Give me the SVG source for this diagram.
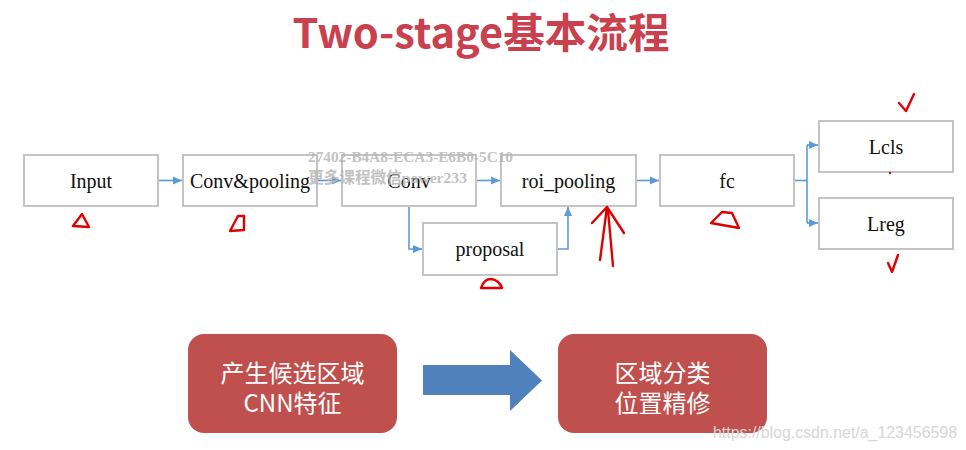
<svg xmlns="http://www.w3.org/2000/svg" width="966" height="450" viewBox="0 0 966 450">
<style>
.box{fill:#fff;stroke:#c4c4c4;stroke-width:2}
.lbl{font-family:"Liberation Serif","Times New Roman",serif;font-size:20px;fill:#111;text-anchor:middle}
.con{fill:none;stroke:#5b9bd5;stroke-width:1.6}
.red{fill:#c0504d}
.wt{font-family:"Noto Sans CJK SC","Noto Sans",sans-serif;font-size:24px;fill:#fff;text-anchor:middle}
.ink{fill:none;stroke:#e00000;stroke-width:2.4;stroke-linecap:round;stroke-linejoin:round}
.wm{font-family:"Liberation Serif","Noto Sans CJK SC",serif;font-size:15.5px;font-weight:bold;fill:#b8b8b8;opacity:0.85}
</style>
<defs>
<marker id="ah" markerUnits="userSpaceOnUse" markerWidth="10" markerHeight="10" refX="9" refY="5" orient="auto">
<path d="M0,1 L9,5 L0,9 Z" fill="#5b9bd5"/>
</marker>
</defs>
<rect width="966" height="450" fill="#fff"/>
<text x="481" y="48" font-family="'Noto Sans CJK SC','Noto Sans',sans-serif" font-size="41" font-weight="bold" fill="#c9404e" text-anchor="middle" textLength="377" lengthAdjust="spacingAndGlyphs">Two-stage基本流程</text>

<g id="connectors">
<path class="con" d="M158,180.5 H182" marker-end="url(#ah)"/>
<path class="con" d="M317,180.5 H341" marker-end="url(#ah)"/>
<path class="con" d="M476,180.5 H500" marker-end="url(#ah)"/>
<path class="con" d="M636,180.5 H659" marker-end="url(#ah)"/>
<path class="con" d="M409,206 V249 H422" marker-end="url(#ah)"/>
<path class="con" d="M557,249 H568 V207" marker-end="url(#ah)"/>
<path class="con" d="M794,180.5 H807"/>
<path class="con" d="M807,145 V223"/>
<path class="con" d="M807,145 H818" marker-end="url(#ah)"/>
<path class="con" d="M807,223 H818" marker-end="url(#ah)"/>
</g>

<g id="input"><rect class="box" x="24" y="155" width="134" height="51"/><text class="lbl" x="91" y="188">Input</text></g>
<g id="convpool"><rect class="box" x="183" y="155" width="134" height="51"/><text class="lbl" x="250" y="188">Conv&amp;pooling</text></g>
<g id="conv"><rect class="box" x="342" y="155" width="134" height="51"/><text class="lbl" x="409" y="188">Conv</text></g>
<g id="proposal"><rect class="box" x="423" y="223" width="134" height="52"/><text class="lbl" x="490" y="256">proposal</text></g>
<g id="roi"><rect class="box" x="501" y="155" width="135" height="51"/><text class="lbl" x="568.5" y="188">roi_pooling</text></g>
<g id="fc"><rect class="box" x="660" y="155" width="134" height="51"/><text class="lbl" x="727" y="188">fc</text></g>
<g id="lcls"><rect class="box" x="819" y="121" width="134" height="51"/><text class="lbl" x="886" y="154">Lcls</text></g>
<g id="lreg"><rect class="box" x="819" y="198" width="134" height="51"/><text class="lbl" x="886" y="231">Lreg</text></g>

<text class="wm" x="308" y="162" textLength="205" lengthAdjust="spacingAndGlyphs">27402-B4A8-ECA3-E6B0-5C10</text>
<text class="wm" x="308" y="183" font-weight="normal" textLength="159" lengthAdjust="spacingAndGlyphs">更多课程微信power233</text>

<g id="stage1"><rect class="red" x="188" y="334" width="209" height="99" rx="16"/>
<text class="wt" x="292.5" y="382">产生候选区域</text><text class="wt" x="292.5" y="412">CNN特征</text></g>
<g id="arrow"><path d="M423,365 H510 V350 L542,380.5 L510,411 V395 H423 Z" fill="#4f81bd"/></g>
<g id="stage2"><rect class="red" x="558" y="334" width="209" height="99" rx="16"/>
<text class="wt" x="662.5" y="382">区域分类</text><text class="wt" x="662.5" y="412">位置精修</text></g>

<g id="marks">
<path class="ink" d="M73,226 L82,214 L89,227 Z"/>
<path class="ink" d="M230,231 L238,216 L244,216 L244,230 Z"/>
<path class="ink" d="M481,288 Q484,279 491,279 Q499,280 502,288 Z"/>
<path class="ink" d="M711,223 L722,212 L732,213 L739,228 Z"/>
<path class="ink" d="M607,207 L600,260 M608,210 L613,266 M607,207 L592,223 M607,207 L624,233"/>
<path class="ink" d="M899,103 L906,111 L914,94"/>
<circle cx="890" cy="173" r="1.2" fill="#e00000"/>
<path class="ink" d="M888,263 L892,272 L898,255"/>
</g>

<text x="713" y="438" font-family="'Liberation Sans',Arial,sans-serif" font-size="16" fill="#d6d6d6" textLength="244" lengthAdjust="spacingAndGlyphs">https://blog.csdn.net/a_123456598</text>
</svg>
